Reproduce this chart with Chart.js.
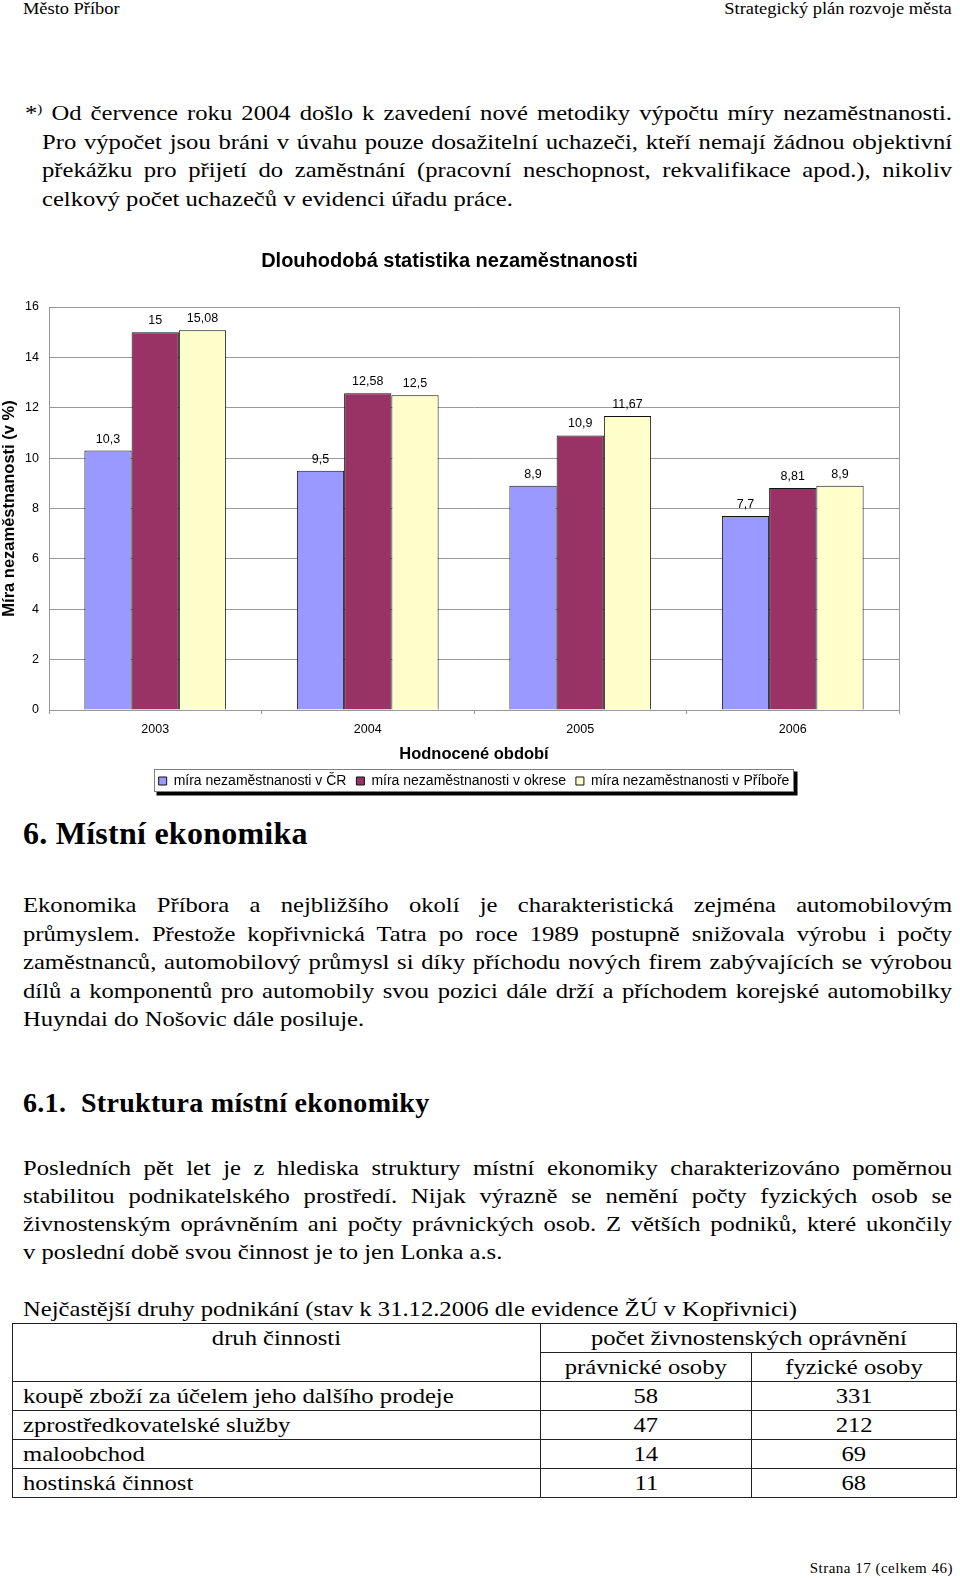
<!DOCTYPE html>
<html lang="cs">
<head>
<meta charset="utf-8">
<title>Město Příbor – Strategický plán rozvoje města</title>
<script src="https://cdn.jsdelivr.net/npm/chart.js@4.4.1/dist/chart.umd.min.js"></script>
<style>
    html, body { margin: 0; padding: 0; background: #fff; }
    body {
        width: 960px; height: 1578px; position: relative; overflow: hidden;
        font-family: "Liberation Serif", "Times New Roman", serif; color: #000;
    }
    .abs { position: absolute; }
    /* the body font of the source document is set wide, so the serif is stretched */
    .txt { font-size: 21.5px; line-height: 28.5px; transform: scaleX(1.145); transform-origin: 0 0; }
    .txt div { white-space: nowrap; text-align: justify; text-align-last: justify; }
    .txt div.last { text-align-last: left; }
    .hdr { font-size: 16px; line-height: 19.2px; white-space: nowrap; transform: scaleX(1.15); }
    sup { font-size: 13px; line-height: 0; vertical-align: 7px; }
    h1, h2 { margin: 0; font-weight: bold; white-space: nowrap; }
    h1 { font-size: 32px; line-height: 38.4px; letter-spacing: 0.25px; }
    h2 { font-size: 28px; line-height: 33.6px; letter-spacing: 0.3px; }
    h2 span { display: inline-block; width: 58px; }
    #chartBox { left: 0; top: 230px; width: 960px; height: 570px; }
    .grid {
        display: grid; grid-template-columns: 527px 210px 204px; grid-auto-rows: 28px;
        gap: 1px; padding: 1px; background: #222;
        font-size: 21.5px; line-height: 28px;
    }
    .grid div { background: #fff; text-align: center; white-space: nowrap; }
    .grid span { display: inline-block; transform: scaleX(1.145); transform-origin: 50% 0; }
    .grid div.name { text-align: left; padding-left: 10px; }
    .grid div.name span { transform-origin: 0 0; }
</style>
</head>
<body>

<div class="abs hdr" style="left:23px; top:-1px; transform-origin:0 0;">Město Příbor</div>
<div class="abs hdr" style="right:8px; top:-1px; transform-origin:100% 0;">Strategický plán rozvoje města</div>

<div class="abs txt" style="left:25px; top:99px; width:809.6px;">
    <div>*<sup>)</sup> Od července roku 2004 došlo k&nbsp;zavedení nové metodiky výpočtu míry nezaměstnanosti.</div>
</div>
<div class="abs txt" style="left:42px; top:127.6px; width:794.8px;">
    <div>Pro výpočet jsou bráni v&nbsp;úvahu pouze dosažitelní uchazeči, kteří nemají žádnou objektivní</div>
    <div>překážku pro přijetí do zaměstnání (pracovní neschopnost, rekvalifikace apod.), nikoliv</div>
    <div class="last">celkový počet uchazečů v evidenci úřadu práce.</div>
</div>

<div class="abs" id="chartBox">
    <canvas id="unemploymentChart" width="960" height="570"></canvas>
</div>

<h1 class="abs" style="left:23px; top:814px;">6. Místní ekonomika</h1>

<div class="abs txt" style="left:23px; top:891.4px; width:811.4px;">
    <div>Ekonomika Příbora a nejbližšího okolí je charakteristická zejména automobilovým</div>
    <div>průmyslem. Přestože kopřivnická Tatra po roce 1989 postupně snižovala výrobu i počty</div>
    <div>zaměstnanců, automobilový průmysl si díky příchodu nových firem zabývajících se výrobou</div>
    <div>dílů a komponentů pro automobily svou pozici dále drží a příchodem korejské automobilky</div>
    <div class="last">Huyndai do Nošovic dále posiluje.</div>
</div>

<h2 class="abs" style="left:23px; top:1086px;"><span>6.1.</span>Struktura místní ekonomiky</h2>

<div class="abs txt" style="left:23px; top:1153.5px; width:811.4px; line-height:28.3px;">
    <div>Posledních pět let je z&nbsp;hlediska struktury místní ekonomiky charakterizováno poměrnou</div>
    <div>stabilitou podnikatelského prostředí. Nijak výrazně se nemění počty fyzických osob se</div>
    <div>živnostenským oprávněním ani počty právnických osob. Z&nbsp;větších podniků, které ukončily</div>
    <div class="last">v&nbsp;poslední době svou činnost je to jen Lonka a.s.</div>
</div>

<div class="abs txt" style="left:23px; top:1295px;">
    <div class="last">Nejčastější druhy podnikání (stav k 31.12.2006 dle evidence ŽÚ v Kopřivnici)</div>
</div>

<div class="abs grid" id="tradeTable" style="left:12px; top:1323px;"></div>

<div class="abs" style="right:7px; top:1559px; font-size:15px; line-height:18px; letter-spacing:0.5px;">Strana 17 (celkem 46)</div>

<script>
// chart data
const years = ['2003', '2004', '2005', '2006'];
const seriesNames = ['míra nezaměstnanosti v ČR', 'míra nezaměstnanosti v okrese', 'míra nezaměstnanosti v Příboře'];
const rateCR = [10.3, 9.5, 8.9, 7.7];
const rateDistrict = [15, 12.58, 10.9, 8.81];
const ratePribor = [15.08, 12.5, 11.67, 8.9];
const seriesColors = ['#9999FF', '#993366', '#FFFFCC'];
const yTicks = [0, 2, 4, 6, 8, 10, 12, 14, 16];

// table data
const activities = ['koupě zboží za účelem jeho dalšího prodeje', 'zprostředkovatelské služby', 'maloobchod', 'hostinská činnost'];
const legalPersons = [58, 47, 14, 11];
const naturalPersons = [331, 212, 69, 68];

const sansFont = '"Liberation Sans", Arial, sans-serif';

// values above the bars, decimal comma
const barLabels = {
    id: 'barLabels',
    afterDatasetsDraw(chart) {
        const ctx = chart.ctx;
        ctx.save();
        ctx.font = '12.5px ' + sansFont;
        ctx.fillStyle = '#000';
        ctx.textAlign = 'center';
        ctx.textBaseline = 'alphabetic';
        chart.data.datasets.forEach((ds, i) => {
            chart.getDatasetMeta(i).data.forEach((bar, j) => {
                ctx.fillText(String(ds.data[j]).replace('.', ','), bar.x, bar.y - 8);
            });
        });
        ctx.restore();
    }
};

// plot frame + legend box with shadow (Excel look)
const frames = {
    id: 'frames',
    afterLayout(chart) {
        // legend is centred on the plot area, the title on the whole chart
        const shift = (chart.chartArea.left + chart.chartArea.right) / 2 - (chart.legend.left + chart.legend.right) / 2;
        chart.legend.left += shift;
        chart.legend.right += shift;
    },
    beforeDraw(chart) {
        const ctx = chart.ctx;
        const hits = chart.legend.legendHitBoxes;
        if (!hits || !hits.length) return;
        const last = hits[hits.length - 1];
        const x = Math.round(hits[0].left - 5) + 0.5;
        const y = Math.round(hits[0].top - 5) + 0.5;
        const w = Math.round(last.left + last.width + 4 - x);
        const h = 22;
        ctx.save();
        ctx.fillStyle = '#000';
        ctx.fillRect(x + 2, y + 2, w + 2, h + 2);
        ctx.fillStyle = '#fff';
        ctx.fillRect(x, y, w, h);
        ctx.strokeStyle = '#808080';
        ctx.lineWidth = 1;
        ctx.strokeRect(x, y, w, h);
        ctx.restore();
    },
    beforeDatasetsDraw(chart) {
        const {ctx, chartArea} = chart;
        ctx.save();
        ctx.strokeStyle = '#999';
        ctx.lineWidth = 1;
        ctx.beginPath();
        ctx.moveTo(Math.round(chartArea.right) + 0.5, chartArea.top);
        ctx.lineTo(Math.round(chartArea.right) + 0.5, chartArea.bottom);
        ctx.stroke();
        ctx.restore();
    }
};

const chart = new Chart(document.getElementById('unemploymentChart'), {
    type: 'bar',
    data: {
        labels: years,
        datasets: [rateCR, rateDistrict, ratePribor].map((values, i) => ({
            label: seriesNames[i],
            data: values,
            backgroundColor: seriesColors[i],
            borderColor: '#111',
            borderWidth: 1,
            borderSkipped: 'bottom',
            categoryPercentage: 0.667,
            barPercentage: 1
        }))
    },
    options: {
        responsive: false,
        animation: false,
        layout: { padding: { left: 0, right: 61, top: 0, bottom: 2 } },
        plugins: {
            title: {
                display: true,
                text: 'Dlouhodobá statistika nezaměstnanosti',
                color: '#000',
                font: { family: sansFont, size: 20, weight: 'bold' },
                padding: { top: 19, bottom: 34 }
            },
            legend: {
                position: 'bottom',
                labels: {
                    color: '#000',
                    font: { family: sansFont, size: 14 },
                    boxWidth: 8,
                    boxHeight: 8,
                    padding: 10
                }
            },
            tooltip: { enabled: false }
        },
        scales: {
            x: {
                afterFit: scale => { scale.height = 54; },
                grid: { drawOnChartArea: false, drawTicks: true, tickLength: 4, color: '#999' },
                border: { color: '#999' },
                ticks: { color: '#000', font: { family: sansFont, size: 12.5 }, padding: 8 },
                title: {
                    display: true,
                    text: 'Hodnocené období',
                    color: '#000',
                    font: { family: sansFont, size: 16.5, weight: 'bold' },
                    padding: { top: 0, bottom: 0 }
                }
            },
            y: {
                min: 0,
                max: 16,
                afterBuildTicks: scale => { scale.ticks = yTicks.map(v => ({ value: v })); },
                afterFit: scale => { scale.width = 49; },
                grid: { color: '#999', drawTicks: false },
                border: { color: '#999' },
                ticks: { color: '#000', font: { family: sansFont, size: 12.5 }, padding: 10 },
                title: {
                    display: true,
                    text: 'Míra nezaměstnanosti (v %)',
                    color: '#000',
                    font: { family: sansFont, size: 16.5, weight: 'bold' },
                    padding: { top: 0, bottom: 4 }
                }
            }
        }
    },
    plugins: [barLabels, frames]
});

// table of business activities
const table = document.getElementById('tradeTable');
function addCell(text, cls, style) {
    const d = document.createElement('div');
    const s = document.createElement('span');
    s.textContent = text;
    d.appendChild(s);
    if (cls) d.className = cls;
    if (style) d.style.cssText = style;
    table.appendChild(d);
}
addCell('druh činnosti', '', 'grid-row: span 2;');
addCell('počet živnostenských oprávnění', '', 'grid-column: span 2;');
addCell('právnické osoby');
addCell('fyzické osoby');
activities.forEach((name, i) => {
    addCell(name, 'name');
    addCell(legalPersons[i]);
    addCell(naturalPersons[i]);
});
</script>
</body>
</html>
